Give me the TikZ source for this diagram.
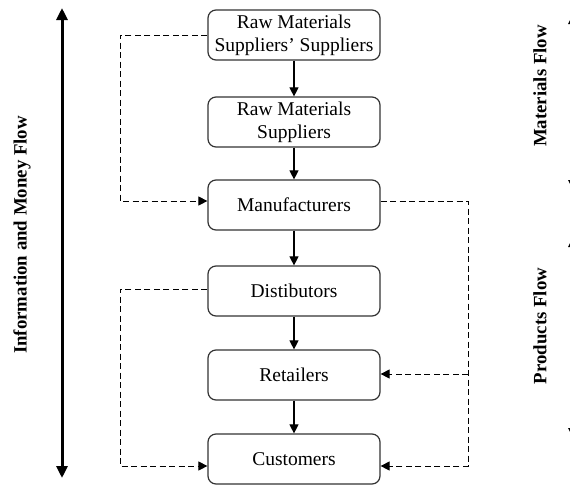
\documentclass[tikz,border=0pt]{standalone}
\usepackage{fontspec}
\setmainfont{Liberation Serif}
\usetikzlibrary{arrows.meta}
\tikzset{
  stagebox/.style={draw=black!80, line width=1.2pt, rounded corners=8pt,
    minimum width=172pt, minimum height=50pt, align=center, inner sep=1pt,
    font=\fontsize{19.5}{23}\selectfont},
  solidarrow/.style={line width=1.1pt, -{Triangle[length=9pt,width=9pt]}},
  dasharrow/.style={line width=0.9pt, dash pattern=on 6pt off 3.5pt, -{Triangle[length=9pt,width=9pt]}},
  bigarrow/.style={line width=3pt, {Triangle[length=12pt,width=11pt]}-{Triangle[length=12pt,width=11pt]}},
  sidelabel/.style={rotate=90, font=\bfseries\fontsize{18.8}{20}\selectfont}
}
\begin{document}
\begin{tikzpicture}[x=1pt,y=-1pt]
\useasboundingbox (0,0) rectangle (570,485);
\clip (0,0) rectangle (570,485);
\node[stagebox] (b1) at (294,35) {Raw Materials\\Suppliers’ Suppliers};
\node[stagebox] (b2) at (294,122) {Raw Materials\\Suppliers};
\node[stagebox] (b3) at (294,205) {Manufacturers};
\node[stagebox] (b4) at (294,291) {Distibutors};
\node[stagebox] (b5) at (294,375) {Retailers};
\node[stagebox] (b6) at (294,459) {Customers};
\draw[solidarrow] (b1) -- (b2);
\draw[solidarrow] (b2) -- (b3);
\draw[solidarrow] (b3) -- (b4);
\draw[solidarrow] (b4) -- (b5);
\draw[solidarrow] (b5) -- (b6);
% dashed connectors
\coordinate (cl1) at (120,201);
\coordinate (cr1) at (468,466);
\coordinate (cr2) at (468,374);
\coordinate (cl2) at (120,466);
\draw[dasharrow] (b1.west) -| (cl1) -- ([yshift=4pt]b3.west);
\draw[dasharrow] ([yshift=4pt]b3.east) -| (cr1) -- ([yshift=-7pt]b6.east);
\draw[dasharrow] (cr2) -- ([yshift=1pt]b5.east);
\draw[dasharrow] ([yshift=2pt]b4.west) -| (cl2) -- ([yshift=-7pt]b6.west);
% left big arrow
\coordinate (lt) at (62,8);
\coordinate (lb) at (62,478);
\draw[bigarrow] (lt) -- (lb);
\node[sidelabel] (lab1) at (22,235) {Information and Money Flow};
% right labels and clipped arrows
\node[sidelabel] (lab2) at (540,86) {Materials Flow};
\node[sidelabel] (lab3) at (540,326) {Products Flow};
\coordinate (mt) at (574,12);
\coordinate (mb) at (574,192);
\coordinate (pt) at (574,235);
\coordinate (pb) at (574,440);
\draw[bigarrow] (mt) -- (mb);
\draw[bigarrow] (pt) -- (pb);
\end{tikzpicture}
\end{document}
